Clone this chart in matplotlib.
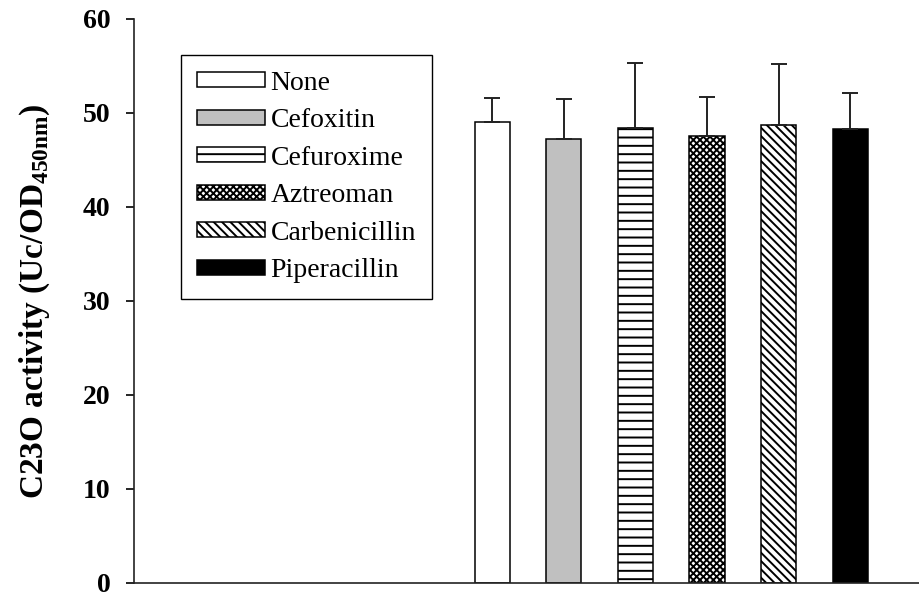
import numpy as np
import matplotlib.pyplot as plt

plt.rcParams['font.family'] = 'Liberation Serif'
plt.rcParams['mathtext.fontset'] = 'custom'
plt.rcParams['mathtext.rm'] = 'Liberation Serif'
plt.rcParams['mathtext.bf'] = 'Liberation Serif:bold'
plt.rcParams['hatch.linewidth'] = 1.4
plt.rcParams['hatch.color'] = 'black'

# data
treatments = ['None', 'Cefoxitin', 'Cefuroxime', 'Aztreoman', 'Carbenicillin', 'Piperacillin']
activity = [49.0, 47.2, 48.4, 47.6, 48.7, 48.3]
activity_sd = [2.6, 4.3, 6.9, 4.1, 6.5, 3.8]

face_colors = ['white', '#c0c0c0', 'white', 'white', 'white', 'black']
hatches = [None, None, '--', 'xxxxx', '\\\\\\\\', None]

fig = plt.figure(figsize=(9.19, 5.94), dpi=100)
ax = fig.add_axes([134 / 919, 11 / 594, 785 / 919, 564 / 594])

x = np.arange(len(treatments))
for i, name in enumerate(treatments):
    ax.bar(x[i], activity[i], width=0.49, color=face_colors[i], edgecolor='black',
           linewidth=1.1, hatch=hatches[i], label=name, zorder=2)

ax.errorbar(x, activity, yerr=[np.zeros(len(x)), activity_sd], fmt='none',
            ecolor='#222222', elinewidth=1.4, capsize=5.5, capthick=1.4, zorder=3)

ax.set_xlim(-5.0, 5.96)
ax.set_ylim(0, 60)
ax.set_yticks(np.arange(0, 61, 10))
ax.set_xticks([])
for lab in ax.get_yticklabels():
    lab.set_fontweight('bold')
ax.tick_params(axis='y', labelsize=20, length=6, width=1.2, pad=11, direction='out')

for side in ['top', 'right']:
    ax.spines[side].set_visible(False)
for side in ['left', 'bottom']:
    ax.spines[side].set_linewidth(1.2)
    ax.spines[side].set_color('#222222')

ax.set_ylabel(r'C23O activity (Uc/OD$_{\mathbf{450nm}}$)', fontsize=24, fontweight='bold')
ax.yaxis.set_label_coords(-0.105, 0.5)

leg = ax.legend(loc='upper left', bbox_to_anchor=(181 / 919, 1 - 55 / 594),
                bbox_transform=fig.transFigure, borderaxespad=0, fontsize=20,
                frameon=True, fancybox=False, shadow=False, framealpha=1,
                edgecolor='black', handlelength=2.46, handleheight=0.46,
                handletextpad=0.2, labelspacing=0.45, borderpad=0.56)
leg.get_frame().set_linewidth(1.0)

fig.savefig('out.png', dpi=100)
